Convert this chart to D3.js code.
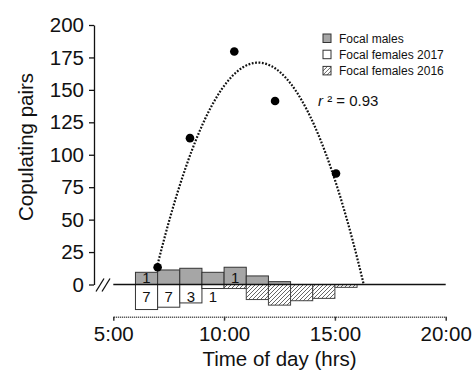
<!DOCTYPE html>
<html>
<head>
<meta charset="utf-8">
<script src="https://cdn.jsdelivr.net/npm/d3@7"></script>
<style>
  body { margin: 0; background: #fff; }
  svg { display: block; font-family: "Liberation Sans", Arial, sans-serif; }
</style>
</head>
<body>
<div id="chart"></div>
<script>
// hourly bins (start hour)
const binStarts = [6, 7, 8, 9, 10, 11, 12, 13, 14, 15];
const males = [9.4, 11.2, 12.5, 9.4, 13.3, 6.6, 2.2, 0, 0, 0];
const females2017 = [19.3, 17.5, 14.2, 3.1, 0, 0, 0, 0, 0, 0];
const females2016 = [0, 0, 0, 0, 3.1, 11.6, 15.9, 12.5, 10.7, 2.2];
const maleLabels = ["1", "", "", "", "1", "", "", "", "", ""];
const female2017Labels = ["7", "7", "3", "1", "", "", "", "", "", ""];

// copulating pairs observed
const pointTimes = [7.0, 8.46, 10.46, 12.3, 15.05];
const pointPairs = [13.3, 112.8, 179.6, 141.4, 85.5];

// quadratic fit (vertex form) and its drawn range
const fitVertexTime = 11.54;
const fitVertexPairs = 171;
const fitRootTime = 16.3;
const fitStart = 7.0;
const rSquared = "0.93";

const xTicks = [5, 10, 15, 20];
const yTicks = [0, 25, 50, 75, 100, 125, 150, 175, 200];
const legendItems = ["Focal males", "Focal females 2017", "Focal females 2016"];

const width = 475;
const height = 372;

const svg = d3.select("#chart").append("svg")
  .attr("width", width)
  .attr("height", height);

const defs = svg.append("defs");
const hatch = defs.append("pattern")
  .attr("id", "hatch")
  .attr("patternUnits", "userSpaceOnUse")
  .attr("width", 4)
  .attr("height", 4);
hatch.append("rect").attr("width", 4).attr("height", 4).attr("fill", "#fff");
hatch.append("path")
  .attr("d", "M-1,1 l2,-2 M0,4 l4,-4 M3,5 l2,-2")
  .attr("stroke", "#555")
  .attr("stroke-width", 0.9);

const x = d3.scaleLinear().domain([5, 20]).range([113.3, 445.7]);
const y = d3.scaleLinear().domain([0, 200]).range([284.5, 25]);

// y axis
const yAxis = svg.append("g")
  .attr("transform", "translate(94,0)")
  .call(d3.axisLeft(y).tickValues(yTicks).tickSize(5).tickSizeOuter(0).tickPadding(5));
yAxis.select(".domain").attr("stroke", "#111").attr("stroke-width", 1.3);
yAxis.selectAll(".tick line").attr("stroke", "#111").attr("stroke-width", 1.3);
yAxis.selectAll("text").attr("font-size", 20.5).attr("fill", "#111")
  .attr("font-family", "Liberation Sans, Arial, sans-serif");

// axis break
const brk = svg.append("g").attr("stroke", "#111").attr("stroke-width", 1.3);
[0, 6].forEach((dx) => {
  brk.append("line")
    .attr("x1", 96 + dx).attr("y1", y(0) + 7)
    .attr("x2", 104 + dx).attr("y2", y(0) - 6);
});

// x axis
const xAxis = svg.append("g")
  .attr("transform", "translate(0,316.7)")
  .call(d3.axisBottom(x).tickValues(xTicks).tickFormat((d) => d + ":00")
    .tickSize(4).tickSizeOuter(0).tickPadding(6));
xAxis.select(".domain").attr("stroke", "#333").attr("stroke-width", 1.5)
  .attr("stroke-dasharray", "1,1");
xAxis.selectAll(".tick line").attr("stroke", "#333").attr("stroke-width", 1.5);
xAxis.selectAll("text").attr("font-size", 20.5).attr("fill", "#111")
  .attr("font-family", "Liberation Sans, Arial, sans-serif");

// axis titles
svg.append("text")
  .attr("x", 279.5).attr("y", 366)
  .attr("text-anchor", "middle")
  .attr("font-size", 20.5).attr("fill", "#111")
  .text("Time of day (hrs)");

svg.append("text")
  .attr("transform", "translate(33,147) rotate(-90)")
  .attr("text-anchor", "middle")
  .attr("font-size", 20.5).attr("fill", "#111")
  .text("Copulating pairs");

// bars
const bins = binStarts.map((h, i) => ({
  h, male: males[i], f17: females2017[i], f16: females2016[i],
  mLabel: maleLabels[i], fLabel: female2017Labels[i],
}));

const bars = svg.append("g");
bars.selectAll("rect.male")
  .data(bins.filter((d) => d.male > 0))
  .join("rect")
  .attr("class", "male")
  .attr("x", (d) => x(d.h))
  .attr("width", (d) => x(d.h + 1) - x(d.h))
  .attr("y", (d) => y(d.male))
  .attr("height", (d) => y(0) - y(d.male))
  .attr("fill", "#a6a6a6")
  .attr("stroke", "#333")
  .attr("stroke-width", 1);

bars.selectAll("rect.f17")
  .data(bins.filter((d) => d.f17 > 0))
  .join("rect")
  .attr("class", "f17")
  .attr("x", (d) => x(d.h))
  .attr("width", (d) => x(d.h + 1) - x(d.h))
  .attr("y", y(0))
  .attr("height", (d) => y(0) - y(d.f17))
  .attr("fill", "#fff")
  .attr("stroke", "#333")
  .attr("stroke-width", 1);

bars.selectAll("rect.f16")
  .data(bins.filter((d) => d.f16 > 0))
  .join("rect")
  .attr("class", "f16")
  .attr("x", (d) => x(d.h))
  .attr("width", (d) => x(d.h + 1) - x(d.h))
  .attr("y", y(0))
  .attr("height", (d) => y(0) - y(d.f16))
  .attr("fill", "url(#hatch)")
  .attr("stroke", "#444")
  .attr("stroke-width", 1);

bars.selectAll("text.mlab")
  .data(bins.filter((d) => d.mLabel))
  .join("text")
  .attr("class", "mlab")
  .attr("x", (d) => x(d.h + 0.5))
  .attr("y", 282.5)
  .attr("text-anchor", "middle")
  .attr("font-size", 15).attr("fill", "#111")
  .text((d) => d.mLabel);

bars.selectAll("text.flab")
  .data(bins.filter((d) => d.fLabel))
  .join("text")
  .attr("class", "flab")
  .attr("x", (d) => x(d.h + 0.5))
  .attr("y", 301.5)
  .attr("text-anchor", "middle")
  .attr("font-size", 15).attr("fill", "#111")
  .text((d) => d.fLabel);

// zero line
svg.append("line")
  .attr("x1", x(5)).attr("x2", x(20))
  .attr("y1", y(0)).attr("y2", y(0))
  .attr("stroke", "#111").attr("stroke-width", 1.5);

// fitted curve
const curv = fitVertexPairs / Math.pow(fitRootTime - fitVertexTime, 2);
const fitTimes = d3.range(fitStart, fitRootTime + 0.001, 0.05);
const line = d3.line()
  .x((t) => x(t))
  .y((t) => y(fitVertexPairs - curv * Math.pow(t - fitVertexTime, 2)));
svg.append("path")
  .datum(fitTimes)
  .attr("d", line)
  .attr("fill", "none")
  .attr("stroke", "#111")
  .attr("stroke-width", 2.2)
  .attr("stroke-dasharray", "1.8,1.6");

// points
svg.append("g").selectAll("circle")
  .data(pointTimes.map((t, i) => [t, pointPairs[i]]))
  .join("circle")
  .attr("cx", (d) => x(d[0]))
  .attr("cy", (d) => y(d[1]))
  .attr("r", 4.3)
  .attr("fill", "#000");

// legend
const legend = svg.append("g").attr("transform", "translate(323,38.5)");
const fills = ["#a6a6a6", "#fff", "url(#hatch)"];
legendItems.forEach((name, i) => {
  const g = legend.append("g").attr("transform", `translate(0,${i * 16.2})`);
  g.append("rect")
    .attr("x", 0).attr("y", -4.5)
    .attr("width", 8).attr("height", 8.5)
    .attr("fill", fills[i])
    .attr("stroke", "#333").attr("stroke-width", 1);
  g.append("text")
    .attr("x", 16).attr("y", 4.3)
    .attr("font-size", 12).attr("fill", "#111")
    .text(name);
});

// r squared
const rt = svg.append("text")
  .attr("x", 318).attr("y", 105.5)
  .attr("font-size", 15).attr("fill", "#111");
rt.append("tspan").attr("font-style", "italic").text("r");
rt.append("tspan").text(" \u00b2 = " + rSquared);
</script>
</body>
</html>
